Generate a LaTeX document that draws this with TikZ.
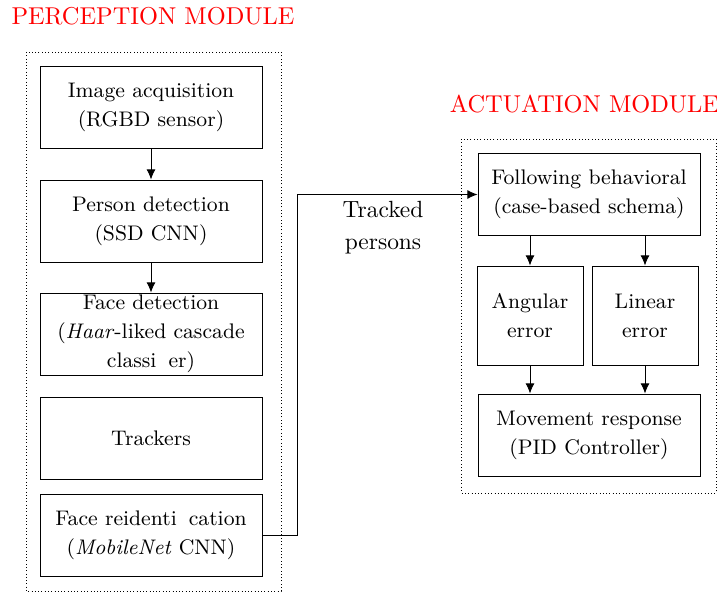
\documentclass[tikz,border=0pt]{standalone}
\usepackage{tikz}
\usetikzlibrary{arrows.meta,positioning}
\linespread{1.13}

\begin{document}
\begin{tikzpicture}[>={Latex[length=4.3pt,width=3.8pt]},x=0.015cm,y=-0.015cm,
    block/.style={draw,inner sep=0pt,align=center,font=\small,minimum width=3.33cm,minimum height=1.23cm},
    smallblock/.style={block,minimum width=1.59cm,minimum height=1.485cm},
    modtitle/.style={text=red,inner sep=0pt,font=\fontsize{10.4}{12}\selectfont},
    modframe/.style={densely dotted}]
      \useasboundingbox (0,0) rectangle (717,593);
      % perception module
      \node[modtitle] (ptitle) at (153,16) {PERCEPTION MODULE};
      \draw[modframe] (26,52) rectangle (281,591);
      \node[block] (img) at (151,107.5) {Image acquisition\\(RGBD sensor)};
      \node[block] (det) at (151,221) {Person detection\\(SSD CNN)};
      \node[block] (face) at (151,334) {Face detection\\(\textit{Haar}-liked cascade\\classi\phantom{fi}er)};
      \node[block] (trk) at (151,438) {Trackers};
      \node[block] (reid) at (151,535.5) {Face reidenti\phantom{fi}cation\\(\textit{MobileNet} CNN)};
      \foreach \a/\b in {img/det,det/face} {
        \draw[->] (\a) -- (\b);
      }
      % actuation module
      \node[modtitle] (atitle) at (584.5,104) {ACTUATION MODULE};
      \draw[modframe] (461.5,139) rectangle (716,493);
      \node[block] (follow) at (589,194.5) {Following behavioral\\(case-based schema)};
      \node[smallblock] (ang) at (530,315.5) {Angular\\error};
      \node[smallblock] (lin) at (645,315.5) {Linear\\error};
      \node[block] (mov) at (589,435) {Movement response\\(PID Controller)};
      \foreach \e in {ang,lin} {
        \draw[->] (\e.north |- follow.south) -- (\e.north);
        \draw[->] (\e.south) -- (\e.south |- mov.north);
      }
      % link between modules
      \draw[->] (reid.east) -- ++(35,0) |- (follow.west);
      \node[align=center] (tracked) at (383,228) {Tracked\\persons};
   \end{tikzpicture}
\end{document}
